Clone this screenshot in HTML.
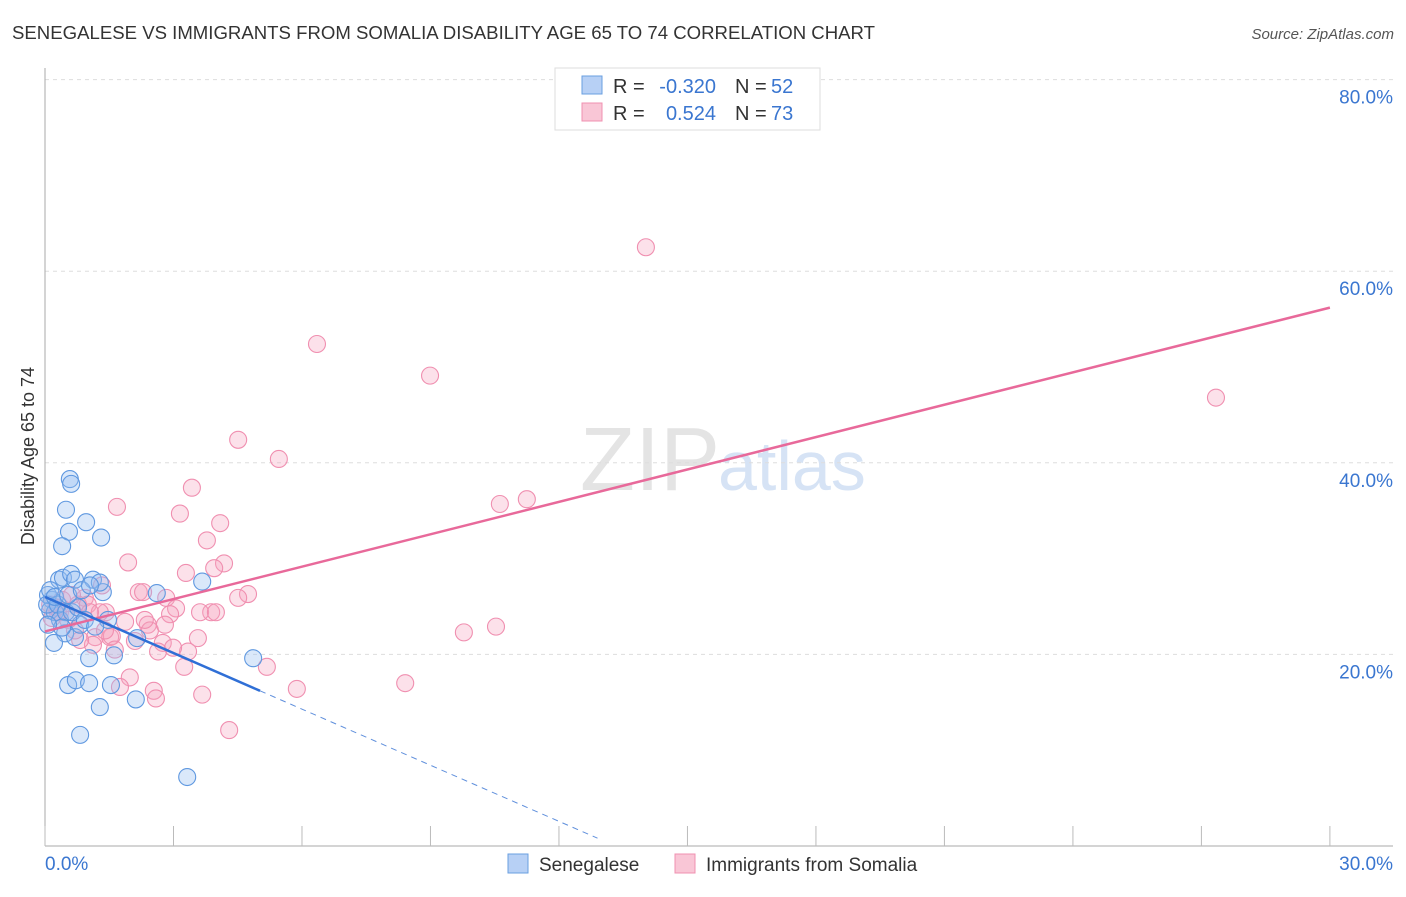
<!DOCTYPE html>
<html><head><meta charset="utf-8"><style>
body{margin:0;background:#fff;font-family:"Liberation Sans",sans-serif}
svg text{font-family:"Liberation Sans",sans-serif}
</style></head><body>
<svg id="c" width="1406" height="892">
<text x="12" y="39" font-size="18" fill="#333" textLength="863" lengthAdjust="spacingAndGlyphs">SENEGALESE VS IMMIGRANTS FROM SOMALIA DISABILITY AGE 65 TO 74 CORRELATION CHART</text>
<text x="1394" y="39" font-size="15" fill="#555" font-style="italic" text-anchor="end">Source: ZipAtlas.com</text>
<text x="720" y="490" font-size="90" fill="#e4e4e4" text-anchor="end" font-family="Liberation Serif">ZIP</text>
<text x="718" y="490" font-size="70" fill="#d6e3f5">atlas</text>
<text transform="translate(34,456) rotate(-90)" font-size="18" fill="#333" text-anchor="middle">Disability Age 65 to 74</text>
<g id="grid"></g><g id="pts"></g><g id="lines"></g>
<g>
<rect x="555" y="68" width="265" height="62" fill="#fff" stroke="#ddd"/>
<rect x="582" y="76" width="20" height="18" fill="#b7d0f5" stroke="#6a9fe0"/>
<rect x="582" y="103" width="20" height="18" fill="#f9c6d6" stroke="#f090b0"/>
<text x="613" y="93" font-size="20" fill="#333">R =</text>
<text x="716" y="93" font-size="20" fill="#3a76d0" text-anchor="end">-0.320</text>
<text x="735" y="93" font-size="20" fill="#333">N =</text>
<text x="771" y="93" font-size="20" fill="#3a76d0">52</text>
<text x="613" y="120" font-size="20" fill="#333">R =</text>
<text x="716" y="120" font-size="20" fill="#3a76d0" text-anchor="end">0.524</text>
<text x="735" y="120" font-size="20" fill="#333">N =</text>
<text x="771" y="120" font-size="20" fill="#3a76d0">73</text>
</g>
<g>
<rect x="508" y="854" width="20" height="19" fill="#b7d0f5" stroke="#6a9fe0"/>
<text x="539" y="871" font-size="19" fill="#333">Senegalese</text>
<rect x="675" y="854" width="20" height="19" fill="#f9c6d6" stroke="#f090b0"/>
<text x="706" y="871" font-size="19" fill="#333">Immigrants from Somalia</text>
</g>
</svg>
<script>
const yTicks=[20,40,60,80];
const xTickLabels=["0.0%","30.0%"];
const blueX=[.58,.61,.49,.56,.40,.96,1.31,.33,.42,.61,.70,1.12,1.35,2.61,3.67,.16,.12,.23,.35,.47,.70,.82,1.47,2.15,.21,1.03,1.61,4.86,.54,.72,1.03,1.54,2.12,1.28,.82,3.32,.07,.05,.12,.30,.49,.63,.77,.93,1.17,.40,1.28,.23,.54,.86,1.05,.07];
const blueY=[38.3,37.8,35.1,32.8,31.3,33.8,32.2,27.8,28.0,28.4,27.8,27.8,26.5,26.4,27.6,25.7,24.6,24.4,23.6,22.2,21.8,23.1,23.6,21.7,21.2,19.6,19.9,19.6,16.8,17.3,17.0,16.8,15.3,14.5,11.6,7.2,26.2,25.2,26.7,25.2,24.4,24.4,24.9,23.6,22.9,22.8,27.5,26.0,26.2,26.7,27.2,23.1];
const pinkX=[14.03,6.35,8.99,4.51,5.46,27.34,3.43,3.15,1.68,4.09,3.78,4.18,1.94,3.29,3.95,1.33,2.19,2.29,2.83,4.74,4.51,10.62,11.25,3.88,3.62,3.99,3.06,2.92,1.42,1.87,2.40,2.45,.93,.77,.35,.54,1.17,1.52,1.56,2.75,3.57,2.10,2.64,3.34,2.99,1.12,.82,5.18,3.25,1.98,1.75,2.54,2.59,3.67,5.88,8.41,9.78,10.53,4.30,.30,.16,.40,.63,1.00,.26,.12,1.40,2.33,1.28,.70,1.05,1.63,2.80];
const pinkY=[62.5,52.4,49.1,42.4,40.4,46.8,37.4,34.7,35.4,33.7,31.9,29.5,29.6,28.5,29.0,27.2,26.5,26.5,25.9,26.3,25.9,35.7,36.2,24.4,24.4,24.4,24.8,24.2,24.4,23.4,23.1,22.5,25.9,25.2,24.4,23.6,21.8,21.8,21.9,21.2,21.7,21.4,20.3,20.3,20.7,21.0,21.5,18.7,18.7,17.6,16.6,16.2,15.4,15.8,16.4,17.0,22.3,22.9,12.1,24.4,23.8,25.7,26.2,25.2,24.9,25.2,22.5,23.6,24.4,22.5,24.4,20.5,23.1];
const pinkFit=[22.4,56.2];
const blueFit=[26.0,16.2,5.02,12.9];
const X=v=>45+v*42.83, Y=v=>846-v*9.58;
const NS="http://www.w3.org/2000/svg";
function mk(tag,attrs,parent){const e=document.createElementNS(NS,tag);for(const k in attrs)e.setAttribute(k,attrs[k]);parent.appendChild(e);return e;}
const grid=document.getElementById('grid');
yTicks.forEach(t=>{
 const l=mk('line',{x1:45,x2:1393,y1:Y(t),y2:Y(t),stroke:'#ddd','stroke-dasharray':'4,4'},grid);
 
 
 const tx=mk('text',{x:1393,y:Y(t)+24,'font-size':19,fill:'#3a76d0','text-anchor':'end'},grid);
 tx.textContent=t.toFixed(1)+'%';
 
 
});
const ax=mk('line',{x1:45,x2:45,y1:68,y2:846,stroke:'#aaa'},grid);


const bx=mk('line',{x1:45,x2:1393,y1:846,y2:846,stroke:'#aaa'},grid);


for(let i=0;i<=10;i++){const t=mk('line',{x1:X(i*3),x2:X(i*3),y1:826,y2:846,stroke:'#bbb'},grid);
 
 }
xTickLabels.forEach((s,i)=>{const t=mk('text',{x:i?1393:45,y:870,'font-size':19,fill:'#3a76d0','text-anchor':i?'end':'start'},grid);t.textContent=s;
 
 });
const pts=document.getElementById('pts');
pinkX.forEach((v,i)=>{const c=mk('circle',{cx:X(v),cy:Y(pinkY[i]),r:8.5,fill:'rgba(245,165,192,0.33)',stroke:'#f08fb0','stroke-width':1.1},pts);
 
 });
blueX.forEach((v,i)=>{const c=mk('circle',{cx:X(v),cy:Y(blueY[i]),r:8.5,fill:'rgba(150,190,240,0.35)',stroke:'#5f98e0','stroke-width':1.1},pts);
 
 });
const lines=document.getElementById('lines');
const pl=mk('line',{x1:X(0),y1:Y(pinkFit[0]),x2:X(30),y2:Y(pinkFit[1]),stroke:'#e8699a','stroke-width':2.5},lines);


const bl=mk('line',{x1:X(0),y1:Y(blueFit[0]),x2:X(blueFit[2]),y2:Y(blueFit[1]),stroke:'#2f6fd6','stroke-width':2.5},lines);


const slope=(blueFit[1]-blueFit[0])/blueFit[2];
const bd=mk('line',{x1:X(blueFit[2]),y1:Y(blueFit[1]),x2:X(blueFit[3]),y2:Y(blueFit[0]+slope*blueFit[3]),stroke:'#5f8fdc','stroke-width':1,'stroke-dasharray':'6,5'},lines);


</script>
</body></html>
